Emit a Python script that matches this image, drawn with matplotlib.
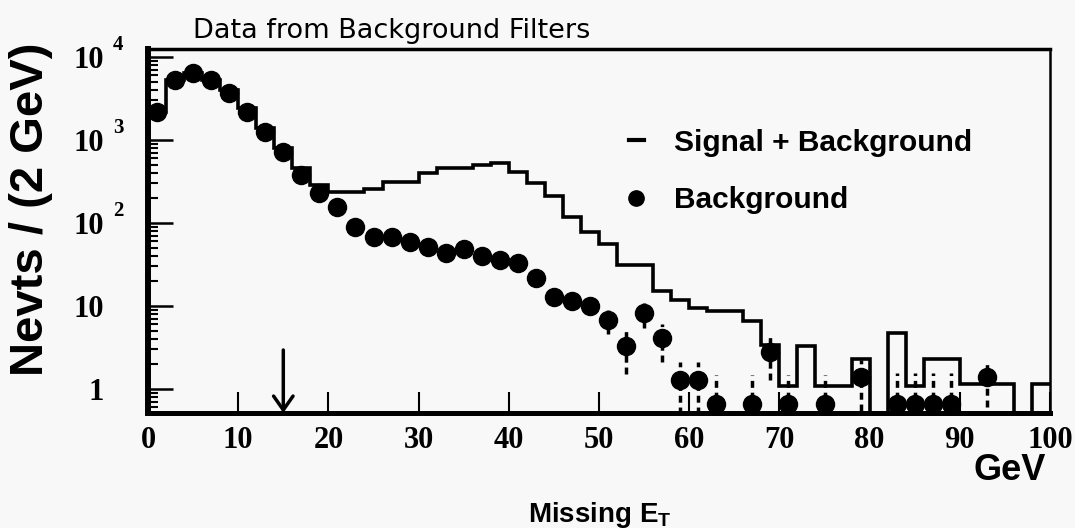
import numpy as np
import matplotlib
matplotlib.use("Agg")
import matplotlib.pyplot as plt
import matplotlib.transforms as mtransforms
from matplotlib.lines import Line2D
from matplotlib.ticker import LogLocator, NullLocator, NullFormatter

# ---------------- data ----------------
bin_edges = np.arange(0, 101, 2)          # 2 GeV bins, 0..100 GeV
signal_plus_bkg = [
    2180, 5300, 6400, 5300, 4000, 2450, 1390, 800, 460, 290,
    235, 235, 255, 310, 310, 400, 455, 455, 500, 535,
    415, 307, 212, 117, 78, 56, 31, 31, 15, 11.7,
    9.4, 8.6, 8.6, 6.6, 3.4, 1.1, 3.3, 1.1, 1.1, 2.3,
    0, 4.7, 1.1, 2.3, 2.3, 1.15, 1.15, 1.15, 0, 1.15,
]
bkg_centers = np.arange(1, 100, 2)
bkg_values = [
    2180, 5260, 6400, 5260, 3700, 2180, 1250, 720, 380, 230,
    155, 90, 68, 68, 59, 51, 43, 49, 40, 36,
    33, 22, 12.8, 11.5, 10, 6.8, 3.3, 8.2, 4.1, 1.3,
    1.3, 0.66, 0, 0.66, 2.8, 0.66, 0, 0.66, 0, 1.4,
    0, 0.66, 0.66, 0.66, 0.66, 0, 1.4, 0, 0, 0,
]
bkg_errors = [
    60, 100, 110, 100, 80, 60, 45, 35, 25, 20,
    15, 10, 8, 8, 7, 6, 5.5, 6, 5, 5,
    4.5, 3.5, 2.5, 2.5, 2.3, 2.2, 1.8, 2.8, 2.0, 0.8,
    0.8, 0.8, 0, 0.8, 1.5, 0.8, 0, 0.8, 0, 0.85,
    0, 0.9, 0.9, 0.9, 0.9, 0, 0.8, 0, 0, 0,
]
x_ticks = [0, 10, 20, 30, 40, 50, 60, 70, 80, 90, 100]
y_ticks = [1, 10, 100, 1000, 10000]
y_tick_labels = ["1", "10", "10", "10", "10"]
y_tick_exponents = ["", "", "2", "3", "4"]
legend_labels = ["Signal + Background", "Background"]
cut_value = 15          # GeV, arrow position
cut_arrow_top = 2.95
y_limits = (0.514, 12490)

# ---------------- style ----------------
plt.rcParams["font.family"] = ["Liberation Serif", "DejaVu Serif"]
plt.rcParams["font.weight"] = "bold"
plt.rcParams["mathtext.fontset"] = "custom"
plt.rcParams["mathtext.rm"] = "Liberation Sans:bold"
plt.rcParams["mathtext.it"] = "Liberation Sans:bold"
plt.rcParams["mathtext.bf"] = "Liberation Sans:bold"
bg = "#f8f8f8"
sans = ["Liberation Sans", "DejaVu Sans"]

fig = plt.figure(figsize=(10.75, 5.28), dpi=100, facecolor=bg)
ax = fig.add_axes([148 / 1075, 1 - 413 / 528, 902 / 1075, 364 / 528])
ax.set_facecolor(bg)
ax.set_yscale("log")

# histogram (signal + background)
sb = np.asarray(signal_plus_bkg, dtype=float)
ax.stairs(np.where(sb > 0, sb, 1e-3), bin_edges, color="black", lw=2.6,
          baseline=None, zorder=2)

# background points with dashed error bars
bv = np.asarray(bkg_values, dtype=float)
be = np.asarray(bkg_errors, dtype=float)
m = bv > 0
eb = ax.errorbar(bkg_centers[m], bv[m], yerr=be[m], fmt="o", ms=13,
                 color="black", ecolor="black", elinewidth=2.5, capsize=0,
                 zorder=3)
eb[2][0].set_linestyle((0, (2.0, 1.4)))

ax.set_xlim(0, 100)
ax.set_ylim(*y_limits)

# ticks
ax.set_xticks(x_ticks)
ax.set_xticklabels([str(t) for t in x_ticks])
ax.xaxis.set_minor_locator(NullLocator())
ax.set_yticks(y_ticks)
ax.set_yticklabels(y_tick_labels)
ax.yaxis.set_minor_locator(LogLocator(base=10, subs=np.arange(2, 10)))
ax.yaxis.set_minor_formatter(NullFormatter())
ax.tick_params(axis="both", which="both", direction="in", top=False, right=False)
ax.tick_params(axis="y", which="major", length=18, width=1.8, pad=32, labelsize=22)
ax.tick_params(axis="y", which="minor", length=7, width=1.5)
ax.tick_params(axis="x", which="major", length=15, width=1.5, pad=9, labelsize=22)

trans = mtransforms.blended_transform_factory(ax.transAxes, ax.transData)
for yv, ex in zip(y_ticks, y_tick_exponents):
    if ex:
        ax.text(-0.0333, yv * 1.40, ex, transform=trans, ha="center", va="center",
                fontsize=15, fontweight="bold", clip_on=False)

# spines
ax.spines["left"].set_linewidth(4.3)
ax.spines["bottom"].set_linewidth(3.6)
ax.spines["top"].set_linewidth(2.5)
ax.spines["right"].set_linewidth(1.8)

# cut arrow
ax.annotate("", xy=(cut_value, y_limits[0]), xytext=(cut_value, cut_arrow_top),
            arrowprops=dict(arrowstyle="->,head_length=0.5,head_width=0.35",
                            lw=2.5, color="black", shrinkA=0, shrinkB=0,
                            mutation_scale=20),
            zorder=4)

# legend
handles = [Line2D([], [], color="black", lw=3),
           Line2D([], [], marker="o", ls="none", color="black", ms=11)]
ax.legend(handles, legend_labels, loc="center left",
          bbox_to_anchor=((629 - 148) / 902, 0.6635), frameon=False,
          handlelength=0.5, handletextpad=1.0, labelspacing=1.0,
          borderpad=0, borderaxespad=0,
          prop=dict(family=sans, weight="bold", size=21.5))

# texts
fig.text(193 / 1075, 1 - 38 / 528, "Data from Background Filters",
         fontsize=19.5, family=["DejaVu Sans"], fontweight="normal",
         ha="left", va="baseline")
fig.text(31 / 1075, 1 - 209 / 528, "Nevts / (2 GeV)", rotation=90,
         ha="center", va="center", fontsize=34, family=sans, fontweight="bold")
fig.text(1046 / 1075, 1 - 470 / 528, "GeV", ha="right", va="center",
         fontsize=26, family=sans, fontweight="bold")
fig.text(600 / 1075, 1 - 522 / 528, r"Missing E$_\mathrm{T}$", ha="center",
         va="baseline", fontsize=20, family=sans, fontweight="bold")

fig.savefig("out.png", dpi=100, facecolor=bg)
